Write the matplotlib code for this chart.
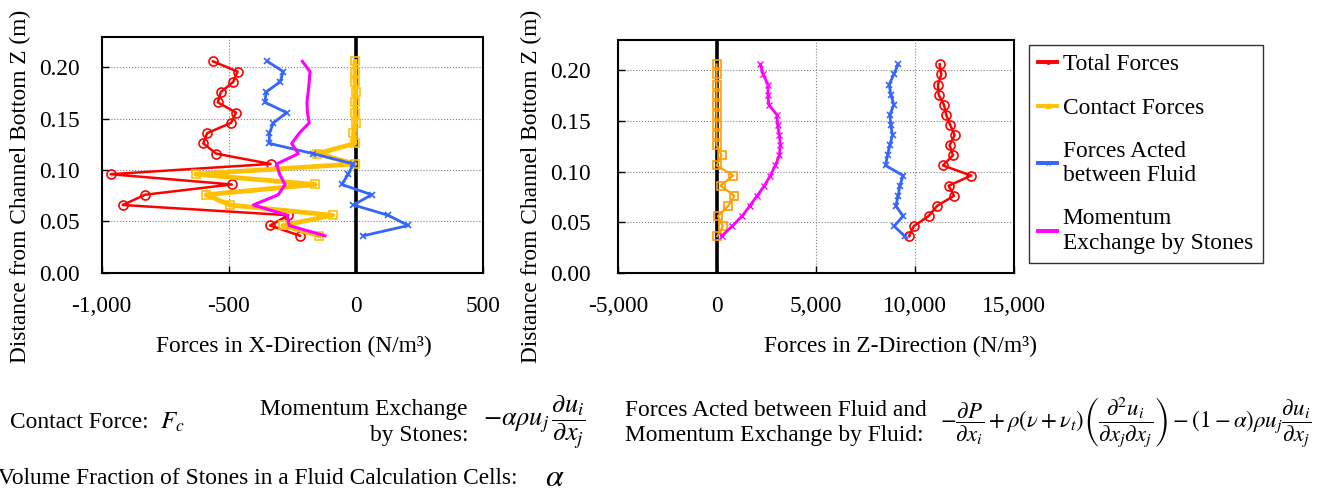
import matplotlib
matplotlib.use("Agg")
import matplotlib.pyplot as plt
from matplotlib.lines import Line2D
from matplotlib.ticker import FuncFormatter, MultipleLocator

plt.rcParams["font.family"] = ["Liberation Serif", "DejaVu Serif"]
plt.rcParams["mathtext.fontset"] = "stix"
plt.rcParams["font.size"] = 16.8

# Height above the channel bottom (m), top to bottom
z = [0.206, 0.196, 0.186, 0.176, 0.166, 0.156, 0.146, 0.136, 0.126,
     0.116, 0.106, 0.096, 0.086, 0.076, 0.066, 0.056, 0.046, 0.036]

# X-direction forces (N/m3)
total_x = [-562, -465, -482, -531, -543, -471, -491, -585, -600,
           -549, -335, -965, -488, -829, -917, -265, -337, -219]
contact_x = [-3, -3, -3, 0, -3, -3, 0, -9, -3,
             -151, -3, -630, -160, -589, -495, -91, -287, -143]
fluid_x = [-348, -285, -298, -353, -357, -272, -324, -340, -340,
           -167, -9, -29, -55, 63, -9, 128, 207, 30]
stones_x = [-210, -180, -183, -187, -192, -190, -183, -222, -252,
            -226, -311, -300, -278, -305, -403, -270, -262, -121]

# Z-direction forces (N/m3)
total_z = [11242, 11326, 11158, 11191, 11460, 11577, 11779, 11997, 11745,
           11913, 11409, 12836, 11695, 11963, 11107, 10688, 9933, 9698]
contact_z = [-34, -34, -34, -34, -34, -34, -34, -34, -34,
             218, -34, 805, 168, 872, 554, 34, 285, 0]
fluid_z = [9144, 8926, 8691, 8775, 8926, 8725, 8775, 8859, 8725,
           8607, 8507, 9396, 9228, 9144, 9027, 9396, 8943, 9480]
stones_z = [2181, 2315, 2567, 2567, 2601, 3020, 3054, 3138, 3188,
            3138, 2936, 2685, 2383, 2013, 1644, 1258, 755, 218]

labels = ["Total Forces", "Contact Forces", "Forces Acted\nbetween Fluid",
          "Momentum\nExchange by Stones"]

RED = "#FF0000"
GOLD = "#FFC000"
ORANGE = "#FF9C00"
BLUE = "#3366FF"
MAGENTA = "#FF00FF"

W, H = 1334, 492
fig = plt.figure(figsize=(W / 100, H / 100), dpi=100)


def px_box(x0, y0, x1, y1):
    return [x0 / W, 1 - y1 / H, (x1 - x0) / W, (y1 - y0) / H]


def thousands(v, pos):
    if abs(v) < 1e-9:
        v = 0
    return f"{v:,.0f}"


def style(ax, xlim, xstep):
    ax.set_xlim(*xlim)
    ax.set_ylim(0, 0.23)
    ax.xaxis.set_major_locator(MultipleLocator(xstep))
    ax.yaxis.set_major_locator(MultipleLocator(0.05))
    ax.xaxis.set_major_formatter(FuncFormatter(thousands))
    ax.yaxis.set_major_formatter(FuncFormatter(lambda v, p: f"{v:.2f}"))
    ax.tick_params(direction="in", length=5, width=1, labelsize=16.8)
    ax.tick_params(axis="x", pad=17)
    ax.tick_params(axis="y", pad=16)
    ax.set_axisbelow(True)
    ax.grid(True, color="#808080", linestyle=":", linewidth=0.8)
    for s in ax.spines.values():
        s.set_linewidth(1.5)
    ax.axvline(0, color="black", lw=2.6, zorder=1.8)


# Left panel: X-direction
ax1 = fig.add_axes(px_box(101.7, 36.7, 482.7, 272.7))
style(ax1, (-1000, 500), 500)
ax1.plot(total_x, z, color=RED, lw=1.8, marker="o", ms=6.5, mfc="none", mew=1.2)
ax1.plot(contact_x, z, color=GOLD, lw=3.4, marker="s", ms=6, mfc="none", mew=1.2)
ax1.plot(fluid_x, z, color=BLUE, lw=2, marker="x", ms=5, mew=1.2)
ax1.plot(stones_x, z, color=MAGENTA, lw=2.2)

# Right panel: Z-direction
ax2 = fig.add_axes(px_box(618.3, 40, 1014, 272.7))
style(ax2, (-5000, 15000), 5000)
ax2.tick_params(axis="y", pad=20)
ax2.plot(total_z, z, color=RED, lw=1.8, marker="o", ms=6.5, mfc="none", mew=1.2)
ax2.plot(contact_z, z, color=ORANGE, lw=1.5, marker="s", ms=6, mfc="none", mew=1.2)
ax2.plot(fluid_z, z, color=BLUE, lw=2, marker="x", ms=5, mew=1.2)
ax2.plot(stones_z, z, color=MAGENTA, lw=2, marker="x", ms=4.5, mew=1)

# Legend
handles = [
    Line2D([], [], color=RED, lw=2.8, marker="o", ms=2.5),
    Line2D([], [], color=GOLD, lw=2.8, marker="s", ms=2.5),
    Line2D([], [], color=BLUE, lw=2.8, marker="x", ms=3),
    Line2D([], [], color=MAGENTA, lw=2.8),
]
fig.legend(handles, labels, loc="upper left",
           bbox_to_anchor=(1029 / W, 1 - 270 / H, 234 / W, 225.3 / H),
           mode="expand", borderaxespad=0, frameon=True, fancybox=False,
           edgecolor="#333333", framealpha=1, fontsize=16.8,
           handlelength=0.8, handletextpad=0.25, labelspacing=0.95,
           borderpad=0.4)

# Axis titles
fig.text(20 / W, 1 - 186 / H, "Distance from Channel Bottom Z (m)",
         rotation=90, ha="center", va="center")
fig.text(531.7 / W, 1 - 186 / H, "Distance from Channel Bottom Z (m)",
         rotation=90, ha="center", va="center")
fig.text(294 / W, 1 - 346 / H, "Forces in X-Direction (N/m³)",
         ha="center", va="center")
fig.text(900 / W, 1 - 346 / H, "Forces in Z-Direction (N/m³)",
         ha="center", va="center")

# Notes below the charts
fig.text(10 / W, 1 - 422 / H, "Contact Force:", va="center")
fig.text(160 / W, 1 - 422 / H, r"$F_c$", va="center", fontsize=18)
fig.text(468 / W, 1 - 410 / H, "Momentum Exchange", ha="right", va="center")
fig.text(468 / W, 1 - 436 / H, "by Stones:", ha="right", va="center")
fig.text(483 / W, 1 - 422 / H,
         r"$-\alpha\rho u_j\,\dfrac{\partial u_i}{\partial x_j}$",
         va="center", fontsize=19)
fig.text(625 / W, 1 - 410 / H, "Forces Acted between Fluid and", va="center")
fig.text(625 / W, 1 - 436 / H, "Momentum Exchange by Fluid:", va="center")
fig.text(940 / W, 1 - 422 / H,
         r"$-\dfrac{\partial P}{\partial x_i}+\rho(\nu+\nu_t)"
         r"\left(\dfrac{\partial^2 u_i}{\partial x_j\partial x_j}\right)"
         r"-(1-\alpha)\rho u_j\dfrac{\partial u_i}{\partial x_j}$",
         va="center", fontsize=16.5)
fig.text(-2 / W, 1 - 478 / H,
         "Volume Fraction of Stones in a Fluid Calculation Cells:", va="center")
fig.text(545 / W, 1 - 478 / H, r"$\alpha$", va="center", fontsize=23)

fig.savefig("out.png", dpi=100)
